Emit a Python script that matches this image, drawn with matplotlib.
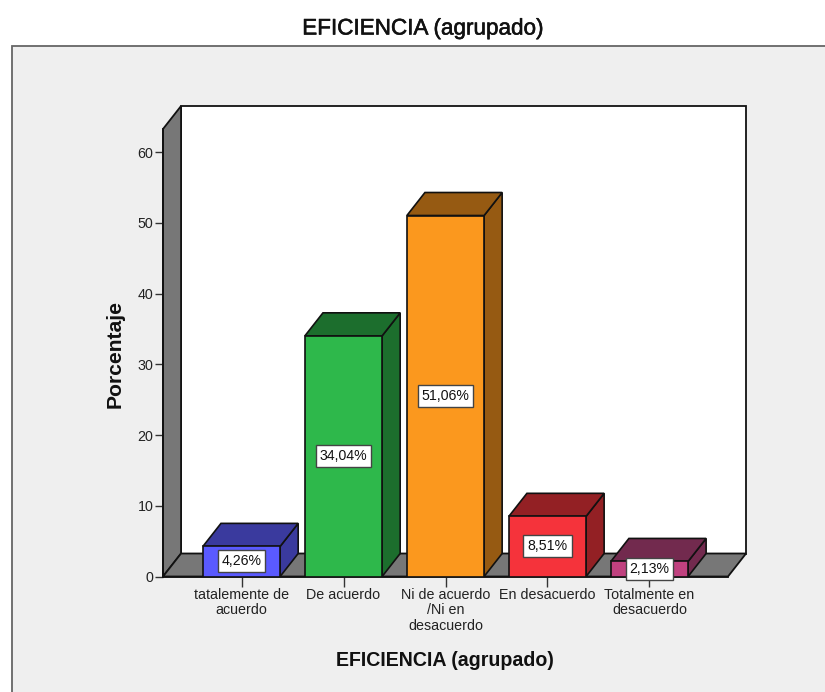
import matplotlib
matplotlib.use('Agg')
import matplotlib.pyplot as plt
import matplotlib.patheffects as pe
from matplotlib.patches import Polygon, Rectangle

plt.rcParams['font.family'] = ['Liberation Sans', 'DejaVu Sans']

categories = ['tatalemente de\nacuerdo', 'De acuerdo', 'Ni de acuerdo\n/Ni en\ndesacuerdo',
              'En desacuerdo', 'Totalmente en\ndesacuerdo']
porcentajes = [4.26, 34.04, 51.06, 8.51, 2.13]
etiquetas = ['4,26%', '34,04%', '51,06%', '8,51%', '2,13%']
y_ticks = [0, 10, 20, 30, 40, 50, 60]

front_colors = ['#5A5AFF', '#2EB84B', '#FB981E', '#F5333B', '#C0417F']
side_colors = ['#3A3A9E', '#1C6E2D', '#965A12', '#932024', '#722A4E']

W, H = 825, 692
fig = plt.figure(figsize=(W / 100, H / 100), dpi=100, facecolor='white')

# panel gris de fondo, pegado a los bordes derecho e inferior
fig.add_artist(Rectangle((12 / W, -0.01), 1, 1 - 46 / H + 0.01, transform=fig.transFigure,
                         facecolor='#EFEFEF', edgecolor='#666666', linewidth=1.3, zorder=-1))

# el plano frontal del grafico: x 163-728, y 129-576.5 en pixeles
ax = fig.add_axes([163 / W, 1 - 576.5 / H, 565 / W, 447.5 / H])
ax.patch.set_visible(False)
x0, x1 = -0.77, 4.77
y1 = 447.5 / 7.07
ax.set_xlim(x0, x1)
ax.set_ylim(0, y1)

# profundidad del efecto 3D
dx = 18 / 101.75
dy = 23 / 7.07
ancho = 0.757
linea = '#111111'

ax.add_patch(Rectangle((x0 + dx, dy), x1 - x0, y1, facecolor='white', edgecolor=linea,
                       linewidth=1.3, clip_on=False, zorder=1))
ax.add_patch(Polygon([(x0, 0), (x0, y1), (x0 + dx, y1 + dy), (x0 + dx, dy)], facecolor='#777777',
                     edgecolor=linea, linewidth=1.3, clip_on=False, zorder=2))
ax.add_patch(Polygon([(x0, 0), (x1, 0), (x1 + dx, dy), (x0 + dx, dy)], facecolor='#777777',
                     edgecolor=linea, linewidth=1.3, clip_on=False, zorder=2))

for i, v in enumerate(porcentajes):
    iz, de = i - ancho / 2, i + ancho / 2
    z = 3 + i
    ax.add_patch(Polygon([(de, 0), (de + dx, dy), (de + dx, v + dy), (de, v)], facecolor=side_colors[i],
                         edgecolor=linea, linewidth=1.2, clip_on=False, zorder=z))
    ax.add_patch(Polygon([(iz, v), (iz + dx, v + dy), (de + dx, v + dy), (de, v)], facecolor=side_colors[i],
                         edgecolor=linea, linewidth=1.2, clip_on=False, zorder=z))
    ax.bar(i, v, ancho, color=front_colors[i], edgecolor=linea, linewidth=1.2, zorder=z)
    ax.text(i, v / 2, etiquetas[i], ha='center', va='center', fontsize=10.2, color='#111111', zorder=20,
            bbox=dict(boxstyle='square,pad=0.28', facecolor='white', edgecolor='#444444', linewidth=1))

for s in ['top', 'right']:
    ax.spines[s].set_visible(False)
for s in ['left', 'bottom']:
    ax.spines[s].set_color(linea)
    ax.spines[s].set_linewidth(1.3)
    ax.spines[s].set_zorder(2.5)

ax.set_yticks(y_ticks)
ax.tick_params(axis='y', length=5.8, width=1, color='#333333', labelsize=10.3, labelcolor='#222222', pad=1)
ax.set_xticks(range(len(categories)))
ax.set_xticklabels(categories, linespacing=1.12)
ax.tick_params(axis='x', length=7.2, width=1, color='#333333', labelsize=10.3, labelcolor='#222222', pad=1)

fig.text(423 / W, 1 - 29 / H, 'EFICIENCIA (agrupado)', ha='center', va='center', fontsize=16.2, color='#111111',
         path_effects=[pe.withStroke(linewidth=0.4, foreground='#111111')])
fig.text(445 / W, 1 - 660 / H, 'EFICIENCIA (agrupado)', ha='center', va='center', fontsize=14.1,
         fontweight='bold', color='#111111')
fig.text(115.5 / W, 1 - 353.5 / H, 'Porcentaje', ha='center', va='center', rotation=90, fontsize=15.2,
         fontweight='bold', color='#111111')

fig.savefig('out.png', dpi=100)
